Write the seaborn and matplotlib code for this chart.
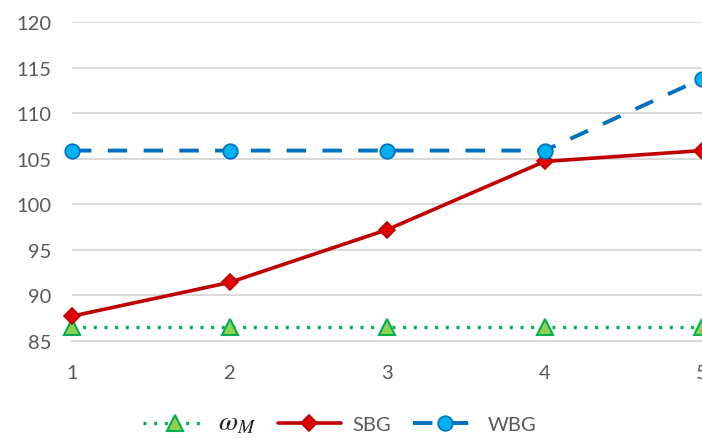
import matplotlib
matplotlib.use("Agg")
import matplotlib.pyplot as plt
import seaborn as sns
import pandas as pd

x_vals = [1, 2, 3, 4, 5]
omega_m = [86.5, 86.5, 86.5, 86.5, 86.5]
sbg = [87.7, 91.4, 97.2, 104.7, 105.9]
wbg = [105.9, 105.9, 105.9, 105.9, 113.8]
y_ticks = [85, 90, 95, 100, 105, 110, 115, 120]
series_labels = [r'$\omega_M$', 'SBG', 'WBG']

sns.set_theme(style="white")
plt.rcParams['font.family'] = ['Lato', 'DejaVu Sans']
plt.rcParams['mathtext.fontset'] = 'stix'

fig = plt.figure(figsize=(7.02, 4.39), dpi=100)
ax = fig.add_axes([72/702, 1 - 341.7/439, 1 - 72/702, (341.7 - 23.3)/439])

df = pd.DataFrame({'x': x_vals, 'om': omega_m, 'sbg': sbg, 'wbg': wbg})

sns.lineplot(data=df, x='x', y='om', ax=ax, color='#00B050', lw=2.4,
             marker='^', markersize=11, markerfacecolor='#92D050',
             markeredgecolor='#00B050', markeredgewidth=1.5,
             label=series_labels[0], clip_on=False, zorder=3)
ax.lines[-1].set_dashes((0.9, 2.3))
sns.lineplot(data=df, x='x', y='sbg', ax=ax, color='#C00000', lw=2.6,
             marker='D', markersize=8.5, markerfacecolor='#E00000',
             markeredgecolor='#C00000', markeredgewidth=1.2,
             label=series_labels[1], clip_on=False, zorder=4)
sns.lineplot(data=df, x='x', y='wbg', ax=ax, color='#0070C0', lw=2.8,
             marker='o', markersize=10.5, markerfacecolor='#00B0F0',
             markeredgecolor='#0070C0', markeredgewidth=1.2,
             label=series_labels[2], clip_on=False, zorder=5)
ax.lines[-1].set_dashes((5.0, 4.2))

ax.set_xlim(1, 5)
ax.set_ylim(85, 120)
ax.set_yticks(y_ticks)
ax.set_xticks(x_vals)
ax.set_xlabel('')
ax.set_ylabel('')
ax.grid(axis='y', color='#D9D9D9', lw=1.4)
ax.set_axisbelow(True)
for s in ['top', 'right', 'left']:
    ax.spines[s].set_visible(False)
ax.spines['bottom'].set_color('#D9D9D9')
ax.spines['bottom'].set_linewidth(1.4)
ax.tick_params(axis='both', length=0, labelsize=14.5, labelcolor='#595959')
ax.tick_params(axis='y', pad=15)
ax.tick_params(axis='x', pad=17)

leg = ax.legend(loc='center', bbox_to_anchor=(340/702, 1 - 423/439),
                bbox_transform=fig.transFigure, ncol=3, frameon=False,
                fontsize=14.5, handlelength=3.1, columnspacing=1.1,
                handletextpad=0.6, numpoints=1)
for t in leg.get_texts():
    t.set_color('#595959')
leg.get_texts()[0].set_fontsize(20)
leg.get_texts()[0].set_color('#222222')

fig.savefig('out.png', dpi=100)
